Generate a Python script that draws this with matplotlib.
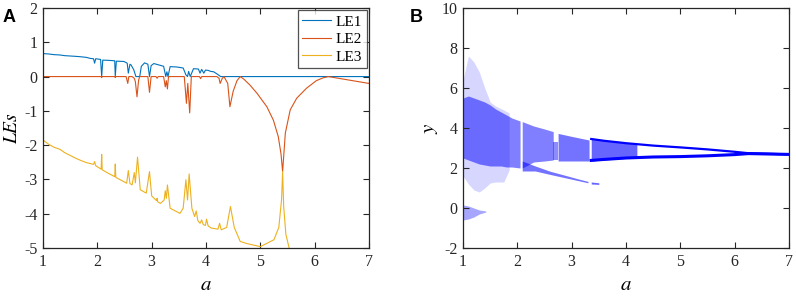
import numpy as np
import matplotlib
matplotlib.use("Agg")
import matplotlib.pyplot as plt

plt.rcParams['font.family'] = ['Liberation Serif', 'DejaVu Serif']
plt.rcParams['mathtext.fontset'] = 'stix'
plt.rcParams['axes.unicode_minus'] = False

# ---- panel A: Lyapunov exponents ----
le1_a = [1.00, 1.10, 1.20, 1.31, 1.40, 1.50, 1.60, 1.68, 1.80, 1.87, 1.93, 1.95, 1.97,
         2.06, 2.08, 2.10, 2.24, 2.32, 2.33, 2.35, 2.49, 2.55, 2.57, 2.60, 2.62, 2.67,
         2.71, 2.78, 2.81, 2.87, 2.93, 2.96, 2.99, 3.04, 3.13, 3.22, 3.26, 3.28, 3.30,
         3.34, 3.46, 3.58, 3.63, 3.66, 3.68, 3.71, 3.77, 3.86, 3.89, 3.92, 3.96, 3.99,
         4.04, 4.09, 4.14, 4.20, 4.27, 7.00]
le1_v = [0.67, 0.66, 0.64, 0.63, 0.61, 0.60, 0.59, 0.58, 0.56, 0.53, 0.52, 0.39, 0.52,
         0.50, 0.00, 0.48, 0.47, 0.46, 0.00, 0.45, 0.44, 0.39, 0.10, 0.36, 0.34, 0.20,
         0.00, 0.00, 0.30, 0.40, 0.36, 0.00, 0.32, 0.38, 0.34, 0.30, 0.00, 0.14, 0.00,
         0.29, 0.28, 0.25, 0.05, 0.00, 0.15, 0.00, 0.23, 0.22, 0.10, 0.21, 0.10, 0.19,
         0.18, 0.15, 0.14, 0.08, 0.00, 0.00]

le2_a = [1.00, 2.07, 2.08, 2.09, 2.32, 2.33, 2.34, 2.53, 2.56, 2.58, 2.64, 2.68, 2.70,
         2.73, 2.76, 2.78, 2.93, 2.96, 2.99, 3.08, 3.10, 3.12, 3.22, 3.25, 3.27, 3.29,
         3.31, 3.60, 3.64, 3.665, 3.70, 3.73, 3.88, 3.90, 3.92, 4.20, 4.24, 4.26, 4.30,
         4.33, 4.40, 4.44, 4.50, 4.57, 4.63, 4.70, 4.81, 4.94, 5.12, 5.24, 5.33, 5.38,
         5.41, 5.46, 5.55, 5.67, 5.85, 6.03, 6.15, 6.25, 7.00]
le2_v = [0.00, 0.00, -0.03, 0.00, 0.00, -0.03, 0.00, 0.00, -0.20, 0.00, 0.00, -0.05, -0.15,
         -0.59, -0.10, 0.00, 0.00, -0.46, 0.00, 0.00, -0.05, 0.00, 0.00, -0.30, -0.12, -0.36,
         0.00, 0.00, -0.78, -0.20, -1.06, 0.00, 0.00, -0.06, 0.00, 0.00, -0.05, -0.20, -0.05,
         0.00, -0.20, -0.88, -0.43, -0.12, 0.00, -0.08, -0.25, -0.49, -0.88, -1.27, -1.75, -2.25,
         -2.77, -1.65, -0.97, -0.63, -0.34, -0.12, -0.04, 0.00, -0.20]

le3_a = [1.00, 1.10, 1.20, 1.31, 1.40, 1.50, 1.60, 1.70, 1.80, 1.93, 1.95, 1.97, 2.07,
         2.08, 2.09, 2.20, 2.32, 2.33, 2.34, 2.54, 2.57, 2.60, 2.64, 2.68, 2.70, 2.74,
         2.79, 2.90, 2.96, 3.00, 3.09, 3.10, 3.11, 3.16, 3.23, 3.25, 3.27, 3.29, 3.34,
         3.52, 3.58, 3.63, 3.66, 3.69, 3.74, 3.79, 3.82, 3.85, 3.89, 3.92, 3.95, 3.99,
         4.01, 4.04, 4.10, 4.22, 4.25, 4.28, 4.38, 4.45, 4.52, 4.63, 4.75, 5.00, 5.25,
         5.34, 5.39, 5.41, 5.43, 5.47, 5.53, 5.60]
le3_v = [-1.85, -1.97, -2.06, -2.12, -2.22, -2.30, -2.38, -2.45, -2.51, -2.56, -2.48, -2.60, -2.70,
         -2.27, -2.72, -2.82, -2.92, -2.55, -2.94, -3.11, -2.74, -3.12, -3.16, -2.80, -3.10, -2.35,
         -3.30, -3.40, -2.77, -3.48, -3.62, -3.55, -3.65, -3.70, -3.60, -3.33, -3.55, -3.16, -3.84,
         -3.99, -3.84, -3.01, -3.60, -2.84, -3.84, -4.08, -3.92, -4.20, -4.28, -4.18, -4.32, -4.34,
         -4.16, -4.36, -4.42, -4.45, -4.28, -4.47, -4.40, -3.79, -4.40, -4.81, -4.87, -4.96, -4.76,
         -4.40, -3.60, -2.77, -3.80, -4.60, -5.00, -5.30]

# ---- panel B: bifurcation diagram, envelopes of the point clouds ----
chaos_a = [1.00, 1.10, 1.20, 1.30, 1.40, 1.50, 1.60, 1.70, 1.80, 1.90, 2.05]
chaos_lo = [2.50, 2.40, 2.30, 2.20, 2.15, 2.10, 2.10, 2.10, 2.05, 2.05, 2.00]
chaos_hi = [5.50, 5.60, 5.50, 5.40, 5.30, 5.15, 4.95, 4.80, 4.65, 4.50, 4.35]
halo_a = [1.00, 1.10, 1.20, 1.30, 1.40, 1.50, 1.60, 1.75, 1.85]
halo_lo = [1.60, 1.20, 0.90, 0.80, 1.00, 1.25, 1.30, 1.30, 1.90]
halo_hi = [6.40, 7.60, 7.30, 6.80, 6.00, 5.30, 5.10, 4.90, 4.75]
low_a = [1.00, 1.10, 1.20, 1.30, 1.42]
low_lo = [-0.60, -0.55, -0.45, -0.30, -0.20]
low_hi = [0.15, 0.10, 0.00, -0.10, -0.15]

band2_a = [2.09, 2.30, 2.50, 2.66]
band2_lo = [2.00, 2.30, 2.35, 2.40]
band2_hi = [4.32, 4.10, 3.95, 3.82]
win_a = [2.66, 2.75]
win_lo = [2.40, 2.40]
win_hi = [3.30, 3.30]
band3_a = [2.75, 3.00, 3.32]
band3_lo = [2.35, 2.35, 2.35]
band3_hi = [3.73, 3.58, 3.40]
branch_a = [2.09, 2.33, 2.60, 2.90, 3.10, 3.30]
branch_lo = [1.85, 1.85, 1.68, 1.50, 1.38, 1.26]
branch_hi = [2.35, 2.10, 1.84, 1.62, 1.47, 1.33]
tail_a = [3.36, 3.50]
tail_lo = [1.20, 1.18]
tail_hi = [1.30, 1.26]
band4_a = [3.36, 3.60, 4.00, 4.20]
band4_lo = [2.35, 2.40, 2.48, 2.52]
band4_hi = [3.48, 3.38, 3.25, 3.20]
upper_a = [3.36, 3.60, 4.00, 4.50, 5.00, 5.50, 6.00, 6.25, 7.00]
upper_y = [3.45, 3.36, 3.24, 3.12, 3.03, 2.93, 2.81, 2.74, 2.68]
lower_a = [3.36, 3.60, 4.00, 4.50, 5.00, 5.50, 6.00, 6.25, 7.00]
lower_y = [2.38, 2.43, 2.50, 2.55, 2.57, 2.61, 2.67, 2.72, 2.68]

C1, C2, C3 = '#0072BD', '#D95319', '#EDB120'
BLUE = '#0000FF'


def style_axes(ax):
    ax.tick_params(direction='in', top=True, right=True, length=4, width=0.8,
                   labelsize=11.5, pad=4, colors='#262626')
    for s in ax.spines.values():
        s.set_linewidth(0.9)
        s.set_color('#262626')


fig = plt.figure(figsize=(7.96, 2.97), dpi=100)
axA = fig.add_axes([43 / 796, 49 / 297, 326 / 796, 240 / 297])
axB = fig.add_axes([463 / 796, 49 / 297, 326 / 796, 240 / 297])

# panel A
axA.plot(le1_a, le1_v, color=C1, lw=0.8, label='LE1')
axA.plot(le2_a, le2_v, color=C2, lw=0.8, label='LE2')
axA.plot(le3_a, le3_v, color=C3, lw=0.8, label='LE3')
axA.set_xlim(1, 7)
axA.set_ylim(-5, 2)
axA.set_xticks(range(1, 8))
axA.set_yticks(range(-5, 3))
axA.set_xlabel('$a$', fontsize=15, labelpad=5)
axA.set_ylabel('$LEs$', fontsize=14, labelpad=2)
style_axes(axA)
leg = axA.legend(loc='upper right', fontsize=11, borderaxespad=0.15, fancybox=False,
                 labelspacing=0.25, handlelength=1.9, borderpad=0.3, handletextpad=0.3)
leg.get_frame().set_edgecolor('#262626')
leg.get_frame().set_linewidth(0.9)

# panel B (translucent envelopes stand in for the scattered points)
axB.fill_between(halo_a, halo_lo, halo_hi, color=BLUE, alpha=0.16, lw=0)
axB.fill_between(chaos_a, chaos_lo, chaos_hi, color=BLUE, alpha=0.5, lw=0)
axB.fill_between(low_a, low_lo, low_hi, color=BLUE, alpha=0.35, lw=0)
axB.fill_between(band2_a, band2_lo, band2_hi, color=BLUE, alpha=0.5, lw=0)
axB.fill_between(win_a, win_lo, win_hi, color=BLUE, alpha=0.45, lw=0)
axB.fill_between(band3_a, band3_lo, band3_hi, color=BLUE, alpha=0.55, lw=0)
axB.fill_between(branch_a, branch_lo, branch_hi, color=BLUE, alpha=0.55, lw=0)
axB.fill_between(tail_a, tail_lo, tail_hi, color=BLUE, alpha=0.6, lw=0)
axB.fill_between(band4_a, band4_lo, band4_hi, color=BLUE, alpha=0.6, lw=0)
axB.plot(upper_a, upper_y, color=BLUE, lw=1.6)
axB.plot(lower_a, lower_y, color=BLUE, lw=2.2)
axB.set_xlim(1, 7)
axB.set_ylim(-2, 10)
axB.set_xticks(range(1, 8))
axB.set_yticks(range(-2, 11, 2))
axB.set_xlabel('$a$', fontsize=15, labelpad=5)
axB.set_ylabel('$y$', fontsize=15, labelpad=1)
style_axes(axB)

fig.text(3 / 796, 1 - 22 / 297, 'A', fontsize=13, fontweight='bold', family='Liberation Sans')
fig.text(410 / 796, 1 - 22 / 297, 'B', fontsize=13, fontweight='bold', family='Liberation Sans')

fig.savefig('out.png', dpi=100)
